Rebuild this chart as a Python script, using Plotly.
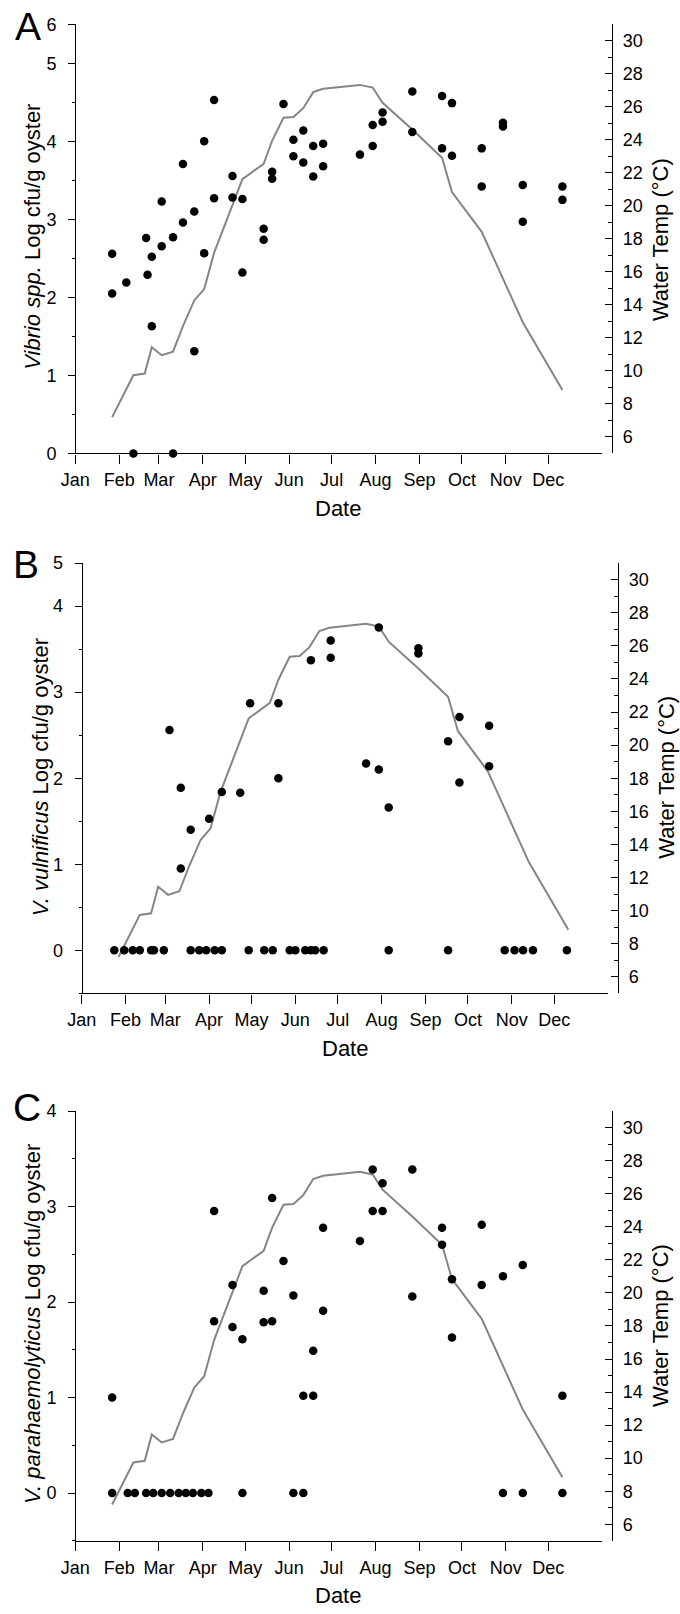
import plotly.graph_objects as go

W, H = 680, 1614
FONT = "Liberation Sans, Arial, sans-serif"

months = ["Jan", "Feb", "Mar", "Apr", "May", "Jun", "Jul", "Aug", "Sep", "Oct", "Nov", "Dec"]
month_starts = ["2013-%02d-01" % m for m in range(1, 13)]
x_range = ["2013-01-01", "2014-01-08"]

# Water temperature (same series in all panels)
temp_dates = ["2013-01-27", "2013-02-11", "2013-02-19", "2013-02-24", "2013-03-03", "2013-03-11",
              "2013-03-18", "2013-03-26", "2013-04-02", "2013-04-09", "2013-04-29", "2013-05-14",
              "2013-05-20", "2013-05-28", "2013-06-04", "2013-06-11", "2013-06-18", "2013-06-25",
              "2013-07-21", "2013-07-30", "2013-08-06", "2013-08-27", "2013-09-17", "2013-09-24",
              "2013-10-15", "2013-11-13", "2013-12-11"]
temp_c = [7.2, 9.74, 9.84, 11.44, 10.95, 11.17, 12.71, 14.27, 14.96, 17.15, 21.62, 22.55,
          23.95, 25.34, 25.38, 25.92, 26.89, 27.09, 27.33, 27.17, 26.25, 24.63, 22.92, 20.84,
          18.43, 12.95, 8.85]

# Panel A: Vibrio spp.
a_dates = ["2013-01-27", "2013-01-27", "2013-02-06", "2013-02-11", "2013-02-20", "2013-02-21",
           "2013-02-24", "2013-02-24", "2013-03-03", "2013-03-03", "2013-03-11", "2013-03-11",
           "2013-03-18", "2013-03-18", "2013-03-26", "2013-03-26", "2013-04-02", "2013-04-02",
           "2013-04-09", "2013-04-09", "2013-04-22", "2013-04-22", "2013-04-29", "2013-04-29",
           "2013-05-14", "2013-05-14", "2013-05-20", "2013-05-20", "2013-05-28", "2013-06-04",
           "2013-06-04", "2013-06-11", "2013-06-11", "2013-06-18", "2013-06-18", "2013-06-25",
           "2013-06-25", "2013-07-21", "2013-07-30", "2013-07-30", "2013-08-06", "2013-08-06",
           "2013-08-27", "2013-08-27", "2013-09-17", "2013-09-17", "2013-09-24", "2013-09-24",
           "2013-10-15", "2013-10-15", "2013-10-30", "2013-10-30", "2013-11-13", "2013-11-13",
           "2013-12-11", "2013-12-11"]
a_vals = [2.56, 2.05, 2.19, 0.0, 2.76, 2.29,
          2.52, 1.63, 2.655, 3.23, 2.77, 0.0,
          2.96, 3.71, 3.10, 1.31, 4.00, 2.565,
          4.53, 3.27, 3.555, 3.28, 3.26, 2.32,
          2.88, 2.74, 3.61, 3.52, 4.48, 4.02,
          3.81, 4.14, 3.73, 3.94, 3.55, 3.97,
          3.68, 3.83, 4.21, 3.94, 4.37, 4.25,
          4.64, 4.12, 4.58, 3.91, 4.49, 3.815,
          3.91, 3.42, 4.24, 4.19, 3.44, 2.97,
          3.42, 3.25]

# Panel B: V. vulnificus
b_dates = ["2013-01-24", "2013-01-31", "2013-02-06", "2013-02-11", "2013-02-19", "2013-02-21",
           "2013-02-28", "2013-03-19", "2013-03-25", "2013-03-30", "2013-04-05", "2013-04-10",
           "2013-04-29", "2013-05-10", "2013-05-16", "2013-05-28", "2013-06-01", "2013-06-08",
           "2013-06-12", "2013-06-15", "2013-06-21", "2013-08-06", "2013-09-17", "2013-10-27",
           "2013-11-03", "2013-11-09", "2013-11-16", "2013-12-10",
           "2013-03-04", "2013-03-12", "2013-03-12", "2013-03-19", "2013-04-01", "2013-04-10",
           "2013-04-23", "2013-04-30", "2013-05-20", "2013-05-20", "2013-06-12", "2013-06-26",
           "2013-06-26", "2013-07-21", "2013-07-30", "2013-07-30", "2013-08-06", "2013-08-27",
           "2013-08-27", "2013-09-17", "2013-09-25", "2013-09-25", "2013-10-16", "2013-10-16"]
b_vals = [0, 0, 0, 0, 0, 0,
          0, 0, 0, 0, 0, 0,
          0, 0, 0, 0, 0, 0,
          0, 0, 0, 0, 0, 0,
          0, 0, 0, 0,
          2.56, 1.89, 0.95, 1.40, 1.53, 1.84,
          1.83, 2.87, 2.87, 2.00, 3.37, 3.60,
          3.40, 2.17, 3.75, 2.10, 1.66, 3.51,
          3.45, 2.43, 2.71, 1.95, 2.61, 2.14]

# Panel C: V. parahaemolyticus
c_dates = ["2013-01-27", "2013-02-07", "2013-02-12", "2013-02-20", "2013-02-25", "2013-03-03",
           "2013-03-09", "2013-03-15", "2013-03-20", "2013-03-25", "2013-03-31", "2013-04-05",
           "2013-04-29", "2013-06-04", "2013-06-11", "2013-10-30", "2013-11-13", "2013-12-11",
           "2013-01-27", "2013-04-09", "2013-04-09", "2013-04-22", "2013-04-22", "2013-04-29",
           "2013-05-14", "2013-05-14", "2013-05-20", "2013-05-20", "2013-05-28", "2013-06-04",
           "2013-06-11", "2013-06-18", "2013-06-18", "2013-06-25", "2013-06-25", "2013-07-21",
           "2013-07-30", "2013-07-30", "2013-08-06", "2013-08-06", "2013-08-27", "2013-08-27",
           "2013-09-17", "2013-09-17", "2013-09-24", "2013-09-24", "2013-10-15", "2013-10-15",
           "2013-10-30", "2013-11-13", "2013-12-11"]
c_vals = [0, 0, 0, 0, 0, 0,
          0, 0, 0, 0, 0, 0,
          0, 0, 0, 0, 0, 0,
          1.00, 2.955, 1.80, 2.18, 1.74, 1.61,
          2.12, 1.79, 3.09, 1.80, 2.43, 2.07,
          1.02, 1.49, 1.02, 2.78, 1.91, 2.64,
          3.39, 2.955, 3.245, 2.955, 3.39, 2.06,
          2.78, 2.60, 2.24, 1.63, 2.81, 2.18,
          2.27, 2.39, 1.02]

temp_tickvals = list(range(6, 31, 2))
temp_minorvals = list(range(5, 32, 2))

a_tickvals = [0, 1, 2, 3, 4, 5, 5.5]
a_ticktext = ["0", "1", "2", "3", "4", "5", "6"]
a_minor = [0.5, 1.5, 2.5, 3.5, 4.5]
b_tickvals = [0, 1, 2, 3, 4, 4.5]
b_ticktext = ["0", "1", "2", "3", "4", "5"]
b_minor = [-0.5, 0.5, 1.5, 2.5, 3.5]
c_tickvals = [0, 1, 2, 3, 4]
c_ticktext = ["0", "1", "2", "3", "4"]
c_minor = [-0.5, 0.5, 1.5, 2.5, 3.5]

panels = [
    dict(letter="A", dates=a_dates, vals=a_vals, yr=[0, 5.5], tv=a_tickvals, tt=a_ticktext, mv=a_minor,
         ytitle="<i>Vibrio spp.</i> Log cfu/g oyster",
         left=61.7, right=600.3, top=14.5, bottom=449.0, raxis=610.5,
         let_xy=(13.5, 17), yt_xy=(18, 230), rt_xy=(659.5, 232), dt_xy=(330, 505)),
    dict(letter="B", dates=b_dates, vals=b_vals, yr=[-0.5, 4.5], tv=b_tickvals, tt=b_ticktext, mv=b_minor,
         ytitle="<i>V. vulnificus</i> Log cfu/g oyster",
         left=68.3, right=606.3, top=560.0, bottom=995.7, raxis=616.5,
         let_xy=(11.5, 561), yt_xy=(25.5, 777), rt_xy=(666, 777), dt_xy=(337, 1052)),
    dict(letter="C", dates=c_dates, vals=c_vals, yr=[-0.5, 4], tv=c_tickvals, tt=c_ticktext, mv=c_minor,
         ytitle="<i>V. parahaemolyticus</i> Log cfu/g oyster",
         left=61.7, right=600.3, top=1115.0, bottom=1550.0, raxis=610.5,
         let_xy=(12.5, 1111), yt_xy=(18, 1331), rt_xy=(660, 1332), dt_xy=(330, 1605)),
]

fig = go.Figure()
layout = dict(width=W, height=H, margin=dict(l=0, r=0, t=0, b=0),
              paper_bgcolor="white", plot_bgcolor="white", showlegend=False,
              font=dict(family=FONT, color="black", size=18))
annotations = []
tickfont = dict(family=FONT, size=18, color="black")
LW = 1.3

def fx(px):
    return px / W

def fy(py):
    return 1 - py / H

for i, p in enumerate(panels):
    xn = "x" if i == 0 else "x%d" % (i + 1)
    xk = "xaxis" if i == 0 else "xaxis%d" % (i + 1)
    tb = 2 * i + 1
    cb = 2 * i + 2
    tn = "y" if tb == 1 else "y%d" % tb
    tk = "yaxis" if tb == 1 else "yaxis%d" % tb
    cn = "y%d" % cb
    ck = "yaxis%d" % cb
    ydom = [fy(p["bottom"]), fy(p["top"])]
    xdom = [fx(p["left"]), fx(p["right"])]

    fig.add_trace(go.Scatter(x=temp_dates, y=temp_c, mode="lines",
                             line=dict(color="#858585", width=2),
                             xaxis=xn, yaxis=tn, hoverinfo="skip"))
    fig.add_trace(go.Scatter(x=p["dates"], y=p["vals"], mode="markers",
                             marker=dict(color="black", size=8.5),
                             xaxis=xn, yaxis=cn, cliponaxis=False))

    layout[xk] = dict(domain=xdom, anchor="free", position=ydom[0], type="date",
                      range=x_range, tickmode="array", tickvals=month_starts, ticktext=months,
                      ticks="outside", ticklen=9, tickwidth=LW, tickcolor="black",
                      showline=True, linecolor="black", linewidth=LW,
                      showgrid=False, zeroline=False, tickfont=tickfont, ticklabelstandoff=1)
    layout[tk] = dict(domain=ydom, anchor="free", position=fx(p["raxis"]), side="right",
                      range=[5, 31], tickmode="array", tickvals=temp_tickvals,
                      ticks="inside", ticklen=7, tickwidth=LW, tickcolor="black",
                      minor=dict(tickmode="array", tickvals=temp_minorvals, ticks="inside",
                                 ticklen=4, tickwidth=LW, tickcolor="black"),
                      showline=True, linecolor="black", linewidth=LW,
                      showgrid=False, zeroline=False, tickfont=tickfont, ticklabelstandoff=6)
    layout[ck] = dict(overlaying=tn, anchor="free", position=xdom[0], side="left",
                      range=p["yr"], tickmode="array", tickvals=p["tv"], ticktext=p["tt"],
                      ticks="outside", ticklen=7, tickwidth=LW, tickcolor="black",
                      minor=dict(tickmode="array", tickvals=p["mv"], ticks="outside",
                                 ticklen=3, tickwidth=LW, tickcolor="black"),
                      showline=True, linecolor="black", linewidth=LW,
                      showgrid=False, zeroline=False, tickfont=tickfont, ticklabelstandoff=8)

    lx, ly = p["let_xy"]
    annotations.append(dict(text=p["letter"], x=fx(lx), y=fy(ly), xref="paper", yref="paper",
                            showarrow=False, xanchor="center", yanchor="middle",
                            font=dict(family=FONT, size=39, color="black")))
    tx, ty = p["yt_xy"]
    annotations.append(dict(text=p["ytitle"], x=fx(tx), y=fy(ty), xref="paper", yref="paper",
                            showarrow=False, xanchor="center", yanchor="middle", textangle=-90,
                            font=dict(family=FONT, size=22, color="black")))
    rx, ry = p["rt_xy"]
    annotations.append(dict(text="Water Temp (°C)", x=fx(rx), y=fy(ry), xref="paper", yref="paper",
                            showarrow=False, xanchor="center", yanchor="middle", textangle=-90,
                            font=dict(family=FONT, size=22, color="black")))
    dx, dy = p["dt_xy"]
    annotations.append(dict(text="Date", x=fx(dx), y=fy(dy), xref="paper", yref="paper",
                            showarrow=False, xanchor="center", yanchor="middle",
                            font=dict(family=FONT, size=22, color="black")))

layout["annotations"] = annotations
fig.update_layout(**layout)
fig.write_html("out.html", config={"displayModeBar": False},
               post_script="document.body.style.margin='0';document.body.style.overflow='hidden';")
